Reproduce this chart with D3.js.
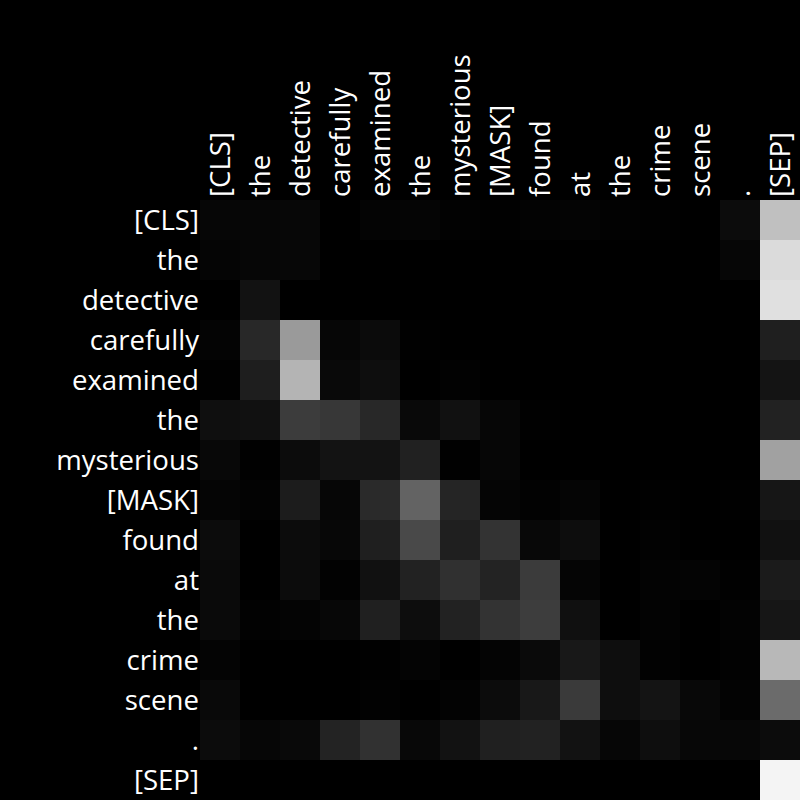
<!DOCTYPE html>
<html><head><meta charset="utf-8">
<script src="https://cdn.jsdelivr.net/npm/d3@7"></script>
<style>html,body{margin:0;padding:0;background:#000;}svg{display:block;}</style>
</head><body>
<script>
const tokens = ["[CLS]","the","detective","carefully","examined","the","mysterious","[MASK]","found","at","the","crime","scene",".","[SEP]"];
const row0  = [0.024,0.024,0.027,0,0.016,0.020,0.008,0.004,0.012,0.016,0.008,0.004,0,0.047,0.753];
const row1  = [0.020,0.024,0.027,0,0,0,0,0,0,0,0,0,0,0.024,0.859];
const row2  = [0,0.071,0,0,0,0,0,0,0,0,0,0,0,0,0.878];
const row3  = [0.016,0.157,0.604,0.024,0.043,0.004,0,0,0,0,0,0,0,0,0.122];
const row4  = [0.004,0.118,0.706,0.035,0.055,0,0.008,0,0,0,0,0,0,0,0.078];
const row5  = [0.059,0.067,0.235,0.216,0.157,0.035,0.067,0.024,0.004,0,0,0,0,0,0.133];
const row6  = [0.031,0.004,0.047,0.075,0.075,0.129,0.004,0.024,0,0,0,0,0,0,0.631];
const row7  = [0.020,0.012,0.110,0.024,0.165,0.388,0.145,0.020,0.008,0.020,0,0.004,0,0.004,0.086];
const row8  = [0.047,0,0.047,0.027,0.122,0.286,0.122,0.200,0.031,0.051,0,0.008,0,0,0.067];
const row9  = [0.039,0,0.047,0.008,0.067,0.133,0.188,0.137,0.231,0.020,0,0.012,0.016,0.004,0.106];
const row10 = [0.039,0.008,0.016,0.027,0.125,0.051,0.133,0.200,0.239,0.063,0,0.012,0,0.012,0.086];
const row11 = [0.016,0,0,0,0.004,0.016,0,0.016,0.039,0.094,0.055,0.008,0,0.008,0.722];
const row12 = [0.035,0,0,0,0.008,0,0.012,0.047,0.094,0.227,0.055,0.078,0.031,0.012,0.420];
const row13 = [0.047,0.024,0.035,0.137,0.192,0.031,0.071,0.125,0.133,0.071,0.024,0.055,0.027,0.027,0.047];
const row14 = [0,0,0,0,0,0,0,0,0,0,0,0,0,0,0.957];
const attention = [row0,row1,row2,row3,row4,row5,row6,row7,row8,row9,row10,row11,row12,row13,row14];

const W = 800, H = 800;
const margin = {left: 200, top: 200, right: 0, bottom: 0};
const svg = d3.select("body").append("svg").attr("width", W).attr("height", H)
  .style("background", "#000");

const idx = d3.range(tokens.length);
const x = d3.scaleBand().domain(idx).range([margin.left, W - margin.right]);
const y = d3.scaleBand().domain(idx).range([margin.top, H - margin.bottom]);
const color = d3.scaleLinear().domain([0, 1]).range(["#000000", "#ffffff"]).clamp(true);

const cells = [];
attention.forEach((r, i) => r.forEach((v, j) => cells.push({i, j, v})));

svg.append("g").selectAll("rect").data(cells).join("rect")
  .attr("x", d => x(d.j)).attr("y", d => y(d.i))
  .attr("width", x.bandwidth() + 0.5).attr("height", y.bandwidth() + 0.5)
  .attr("fill", d => color(d.v));

const font = "'Open Sans', 'Noto Sans', sans-serif";
const fs = 27.6;

svg.append("g").selectAll("text").data(idx).join("text")
  .attr("x", margin.left - 1).attr("y", i => y(i) + y.bandwidth() / 2 - 1)
  .attr("text-anchor", "end").attr("dominant-baseline", "central")
  .attr("fill", "#fff").style("font-family", font).style("font-size", fs + "px")
  .text(i => tokens[i]);

svg.append("g").selectAll("text").data(idx).join("text")
  .attr("transform", i => `translate(${x(i) + x.bandwidth() / 2 - 1},${margin.top - 3}) rotate(-90)`)
  .attr("text-anchor", "start").attr("dominant-baseline", "central")
  .attr("fill", "#fff").style("font-family", font).style("font-size", fs + "px")
  .text(i => tokens[i]);
</script>
</body></html>
